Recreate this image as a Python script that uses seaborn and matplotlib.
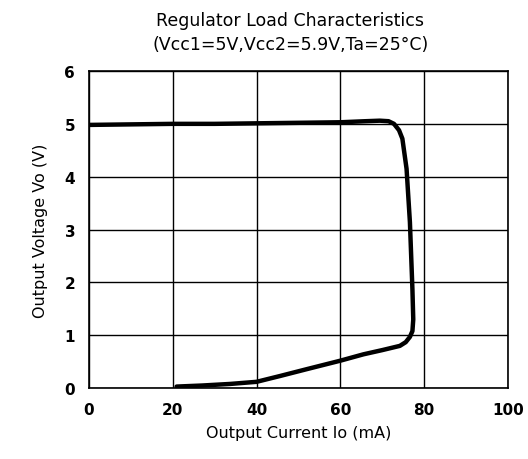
import pandas as pd
import matplotlib
matplotlib.use("Agg")
import matplotlib.pyplot as plt
import seaborn as sns

# Curve (traced in order along the loop)
current_ma = [0, 10, 20, 30, 40, 50, 60, 63, 66, 69.4, 71.5, 72.8, 74.0, 74.8, 75.8, 76.6,
              77.2, 77.4, 77.2, 76.6, 75.6, 74.2, 70, 65.5, 60, 52, 45.6, 40, 33.7, 27, 20.9]
voltage_v = [4.98, 4.99, 5.0, 5.0, 5.01, 5.02, 5.03, 5.04, 5.05, 5.06, 5.05, 5.0, 4.88, 4.72,
             4.15, 3.14, 1.87, 1.3, 1.08, 0.97, 0.87, 0.80, 0.72, 0.64, 0.52, 0.36, 0.23,
             0.12, 0.08, 0.05, 0.03]

df = pd.DataFrame({"io": current_ma, "vo": voltage_v})

sns.set_style("white")
plt.rcParams["font.family"] = ["DejaVu Sans"]
plt.rcParams["text.color"] = "black"
plt.rcParams["axes.labelcolor"] = "black"
plt.rcParams["xtick.color"] = "black"
plt.rcParams["ytick.color"] = "black"

fig = plt.figure(figsize=(5.28, 4.6), dpi=100)
ax = fig.add_axes([0.1686, 0.154, 0.7934, 0.6895])

sns.lineplot(data=df, x="io", y="vo", sort=False, estimator=None,
             color="black", linewidth=3.2, ax=ax)

ax.set_xlim(0, 100)
ax.set_ylim(0, 6)
ax.set_xticks([0, 20, 40, 60, 80, 100])
ax.set_yticks([0, 1, 2, 3, 4, 5, 6])
ax.grid(True, color="black", linewidth=1.0)
for s in ax.spines.values():
    s.set_color("black")
    s.set_linewidth(1.2)
ax.tick_params(length=0, labelsize=11, pad=10)
for lbl in ax.get_xticklabels() + ax.get_yticklabels():
    lbl.set_fontweight("bold")

ax.set_xlabel("Output Current Io (mA)", fontsize=11.5, labelpad=6)
ax.set_ylabel("Output Voltage Vo (V)", fontsize=11.5, labelpad=12)
fig.text(0.55, 0.955, "Regulator Load Characteristics", ha="center", va="center", fontsize=12.5)
fig.text(0.55, 0.903, "(Vcc1=5V,Vcc2=5.9V,Ta=25\u00b0C)", ha="center", va="center", fontsize=12.5)

fig.savefig("out.png", dpi=100)
